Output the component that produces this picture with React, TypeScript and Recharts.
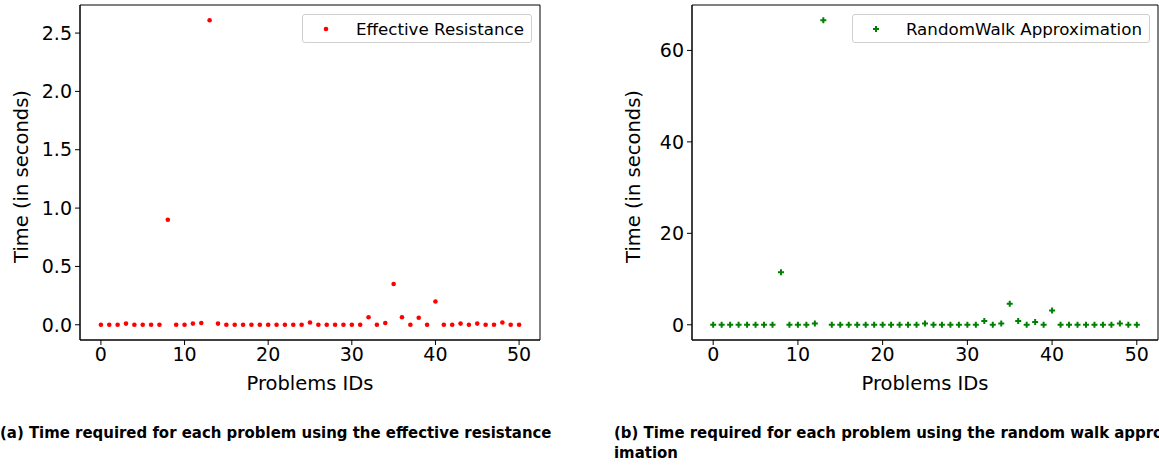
import React from 'react';
import { ScatterChart, Scatter, XAxis, YAxis, Legend, Label, ReferenceArea } from 'recharts';

const problemIds = [0,1,2,3,4,5,6,7,8,9,10,11,12,13,14,15,16,17,18,19,20,21,22,23,24,25,26,27,28,29,30,31,32,33,34,35,36,37,38,39,40,41,42,43,44,45,46,47,48,49,50];
const effectiveResistance = [0,0,0,0.01,0,0,0,0,0.9,0, 0,0.01,0.015,2.61,0.01,0,0,0,0,0, 0,0,0,0,0,0.02,0,0,0,0, 0,0,0.065,0,0.015,0.35,0.065,0,0.06,0, 0.2,0,0,0.01,0,0.01,0,0,0.02,0,0];
const randomWalk = [0,0,0,0,0,0,0,0,11.5,0, 0,0,0.3,66.6,0,0,0,0,0,0, 0,0,0,0,0,0.3,0,0,0,0, 0,0,0.8,0,0.3,4.6,0.8,0,0.6,0, 3.1,0,0,0,0,0,0,0,0.3,0,0];
const xTicks = [0,10,20,30,40,50];
const yTicksLeft = [0,0.5,1.0,1.5,2.0,2.5];
const yTicksRight = [0,20,40,60];
const captionA = '(a) Time required for each problem using the effective resistance';
const captionB1 = '(b) Time required for each problem using the random walk approx';
const captionB2 = 'imation';

const FONT = '"DejaVu Sans", sans-serif';

function padDomain(vals: number[]): [number, number] {
  const mn = Math.min(...vals);
  const mx = Math.max(...vals);
  const m = (mx - mn) * 0.05;
  return [mn - m, mx + m];
}
const xDomain: [number, number] = [-2.5, 52.5];

const RedDot = (p: any) => <circle cx={p.cx} cy={p.cy} r={2.3} fill="#ff0000" />;
const GreenPlus = (p: any) => {
  const { cx, cy } = p;
  const a = 1, b = 3;
  const d = `M${cx - a} ${cy - b}H${cx + a}V${cy - a}H${cx + b}V${cy + a}H${cx + a}V${cy + b}H${cx - a}V${cy + a}H${cx - b}V${cy - a}H${cx - a}Z`;
  return <path d={d} fill="#008000" />;
};

function LegendBox({ label, marker }: { label: string; marker: 'dot' | 'plus' }) {
  return (
    <div style={{ display: 'flex', alignItems: 'center', height: 27, border: '1px solid #d0d0d0', borderRadius: 3, background: '#fff', paddingLeft: 17, paddingRight: 7, fontFamily: FONT, fontSize: 16.7, color: '#000', boxSizing: 'content-box' }}>
      <svg width={12} height={12} style={{ marginRight: 24 }}>
        {marker === 'dot' ? <RedDot cx={6} cy={6} /> : <GreenPlus cx={6} cy={6} />}
      </svg>
      <span style={{ whiteSpace: 'nowrap' }}>{label}</span>
    </div>
  );
}

function Panel({ data, name, marker, yTicks, fmt, legendRight }: any) {
  const yDomain = padDomain(data.map((d: any) => d.t));
  return (
    <ScatterChart width={560} height={400} margin={{ top: 5, right: legendRight, bottom: 0, left: 0 }}>
      <XAxis xAxisId={0} type="number" dataKey="id" domain={xDomain} ticks={xTicks} allowDataOverflow
        height={60} stroke="#000" tickSize={5} tickMargin={3}
        tick={{ fill: '#000', fontSize: 19, fontFamily: FONT }}>
        <Label content={(props: any) => {
          const vb = props.viewBox;
          return <text x={vb.x + vb.width / 2} y={vb.y + 50} textAnchor="middle" fontSize={19.5} fontFamily={FONT} fill="#000">Problems IDs</text>;
        }} />
      </XAxis>
      <YAxis yAxisId={0} type="number" dataKey="t" domain={yDomain} ticks={yTicks} allowDataOverflow width={80}
        stroke="#000" tickSize={5} tickMargin={3} tickFormatter={fmt}
        tick={{ fill: '#000', fontSize: 19, fontFamily: FONT }}>
        <Label content={(props: any) => {
          const vb = props.viewBox;
          const cx = vb.x + 21;
          const cy = vb.y + vb.height / 2 + 4;
          return <text x={cx} y={cy} transform={`rotate(-90 ${cx} ${cy})`} textAnchor="middle" dominantBaseline="central" fontSize={19.5} fontFamily={FONT} fill="#000">Time (in seconds)</text>;
        }} />
      </YAxis>
      <ReferenceArea xAxisId={0} yAxisId={0} x1={xDomain[0]} x2={xDomain[1]} y1={yDomain[0]} y2={yDomain[1]}
        fill="none" fillOpacity={0} stroke="#000" strokeWidth={1} ifOverflow="extendDomain" />
      <Legend layout="horizontal" verticalAlign="middle" align="center"
        wrapperStyle={{ top: 14, right: legendRight + 8, left: 'auto', bottom: 'auto', width: 'auto' }}
        content={() => <LegendBox label={name} marker={marker} />} />
      <Scatter xAxisId={0} yAxisId={0} name={name} data={data} isAnimationActive={false}
        shape={marker === 'dot' ? RedDot : GreenPlus} />
    </ScatterChart>
  );
}

export default function App() {
  const dataA = problemIds.map((id, i) => ({ id, t: effectiveResistance[i] }));
  const dataB = problemIds.map((id, i) => ({ id, t: randomWalk[i] }));
  const capStyle: React.CSSProperties = { position: 'absolute', fontFamily: '"DejaVu Sans Condensed", "DejaVu Sans", sans-serif', fontWeight: 'bold', fontSize: 16.6, lineHeight: '20px', whiteSpace: 'nowrap', color: '#000' };
  return (
    <div style={{ position: 'absolute', left: 0, top: 0, width: 1159, height: 465, overflow: 'hidden', background: '#fff' }}>
      <div style={{ position: 'absolute', left: 0, top: 0 }}>
        <Panel data={dataA} name="Effective Resistance" marker="dot" yTicks={yTicksLeft} fmt={(v: number) => v.toFixed(1)} legendRight={20} />
      </div>
      <div style={{ position: 'absolute', left: 612, top: 0 }}>
        <Panel data={dataB} name="RandomWalk Approximation" marker="plus" yTicks={yTicksRight} fmt={(v: number) => String(Math.round(v))} legendRight={14} />
      </div>
      <div style={{ ...capStyle, left: 0, top: 423 }}>{captionA}</div>
      <div style={{ ...capStyle, left: 614, top: 423 }}>{captionB1}</div>
      <div style={{ ...capStyle, left: 614, top: 443 }}>{captionB2}</div>
    </div>
  );
}
